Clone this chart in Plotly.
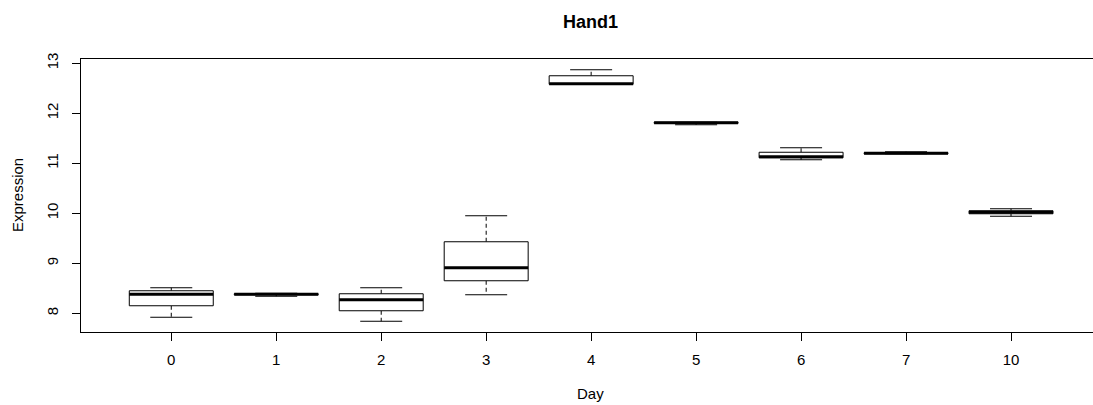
import plotly.graph_objects as go

# Hand1 expression by day: five-number summaries per day
days = ["0", "1", "2", "3", "4", "5", "6", "7", "10"]
lower_whisker = [7.92, 8.34, 7.84, 8.37, 12.58, 11.77, 11.07, 11.19, 9.94]
q1 = [8.15, 8.37, 8.05, 8.65, 12.58, 11.80, 11.11, 11.19, 9.99]
median = [8.38, 8.38, 8.27, 8.91, 12.59, 11.81, 11.13, 11.20, 10.02]
q3 = [8.45, 8.39, 8.39, 9.43, 12.75, 11.82, 11.22, 11.21, 10.05]
upper_whisker = [8.51, 8.40, 8.51, 9.95, 12.87, 11.82, 11.31, 11.23, 10.09]

y_ticks = [8, 9, 10, 11, 12, 13]

W, H = 1093, 405
L, R, T, B = 80.7, 0, 59.3, 72.7
BOX_HALF = 0.4
CAP_HALF = 0.2
FONT = "Liberation Sans, Arial, sans-serif"

pos = list(range(1, len(days) + 1))

box_x, box_y = [], []
med_x, med_y = [], []
wh_x, wh_y = [], []
cap_x, cap_y = [], []
for p, lo, a, m, b, hi in zip(pos, lower_whisker, q1, median, q3, upper_whisker):
    box_x += [p - BOX_HALF, p + BOX_HALF, p + BOX_HALF, p - BOX_HALF, p - BOX_HALF, None]
    box_y += [a, a, b, b, a, None]
    med_x += [p - BOX_HALF, p + BOX_HALF, None]
    med_y += [m, m, None]
    wh_x += [p, p, None, p, p, None]
    wh_y += [b, hi, None, a, lo, None]
    cap_x += [p - CAP_HALF, p + CAP_HALF, None, p - CAP_HALF, p + CAP_HALF, None]
    cap_y += [hi, hi, None, lo, lo, None]

fig = go.Figure()
fig.add_trace(go.Scatter(x=wh_x, y=wh_y, mode="lines",
                         line=dict(color="black", width=1, dash="4px,3px"),
                         hoverinfo="skip"))
fig.add_trace(go.Scatter(x=cap_x, y=cap_y, mode="lines",
                         line=dict(color="black", width=1), hoverinfo="skip"))
fig.add_trace(go.Scatter(x=box_x, y=box_y, mode="lines", fill="toself",
                         fillcolor="white", line=dict(color="black", width=1),
                         hoverinfo="skip"))
fig.add_trace(go.Scatter(x=med_x, y=med_y, mode="lines",
                         line=dict(color="black", width=3), hoverinfo="skip"))

plot_w = W - L - R
plot_h = H - T - B
px_per_unit_x = 105.0
x0 = 0.14
y0, y1 = 7.625, 7.625 + plot_h / 50.0


def paper_x(px):
    return (px - L) / plot_w


def paper_y(py):
    return (H - B - py) / plot_h


fig.update_layout(
    width=W, height=H,
    margin=dict(l=L, r=R, t=T, b=B, pad=0),
    paper_bgcolor="white", plot_bgcolor="white",
    showlegend=False,
    font=dict(family=FONT, size=15, color="black"),
    xaxis=dict(
        range=[x0, x0 + plot_w / px_per_unit_x],
        tickmode="array", tickvals=pos, ticktext=days,
        ticks="outside", ticklen=8, tickwidth=1, tickcolor="black",
        showline=True, linecolor="black", linewidth=1, mirror=True,
        showgrid=False, zeroline=False, ticklabelstandoff=6,
    ),
    yaxis=dict(
        range=[y0, y1],
        tickmode="array", tickvals=y_ticks, ticktext=[str(v) for v in y_ticks],
        tickangle=-90,
        ticks="outside", ticklen=8, tickwidth=1, tickcolor="black",
        showline=True, linecolor="black", linewidth=1, mirror=False,
        showgrid=False, zeroline=False, ticklabelstandoff=8,
    ),
    annotations=[
        dict(text="<b>Hand1</b>", xref="paper", yref="paper",
             x=paper_x(590), y=paper_y(22), xanchor="center", yanchor="middle",
             showarrow=False, font=dict(size=18, family=FONT)),
        dict(text="Day", xref="paper", yref="paper",
             x=paper_x(590), y=paper_y(394), xanchor="center", yanchor="middle",
             showarrow=False, font=dict(size=15, family=FONT)),
        dict(text="Expression", xref="paper", yref="paper",
             x=paper_x(17), y=paper_y(195), xanchor="center", yanchor="middle",
             textangle=-90, showarrow=False, font=dict(size=15, family=FONT)),
    ],
)

fig.write_html("out.html")
